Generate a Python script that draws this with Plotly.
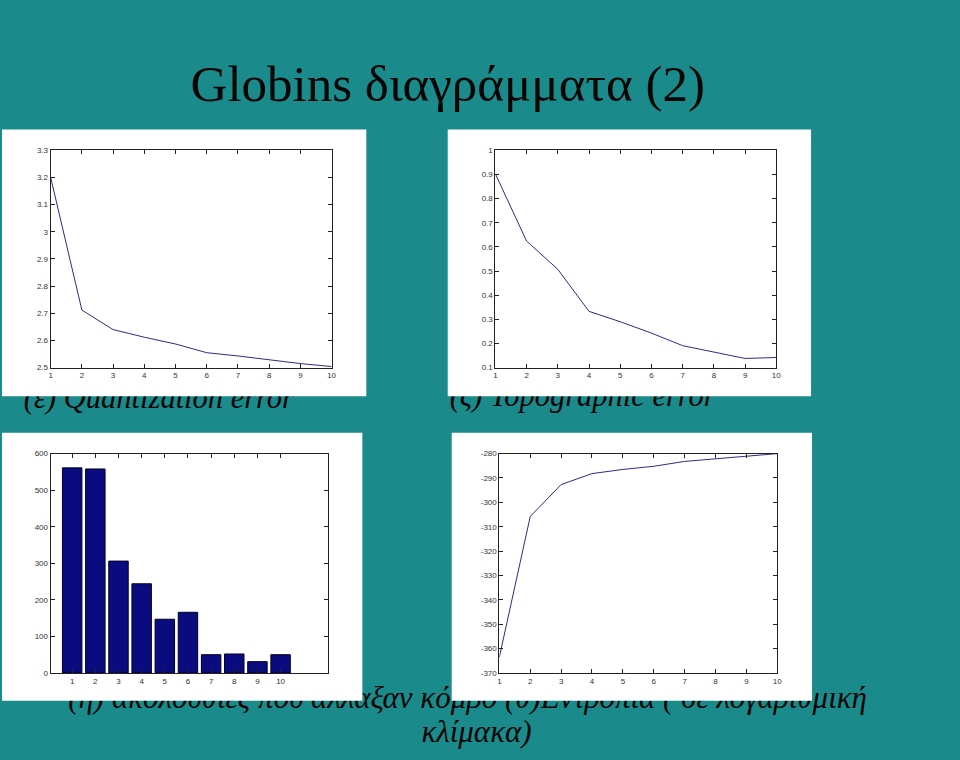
import plotly.graph_objects as go

# ---------------- data ----------------
steps = [1, 2, 3, 4, 5, 6, 7, 8, 9, 10]
quantization_error = [3.20, 2.712, 2.640, 2.612, 2.587, 2.555, 2.543, 2.528, 2.515, 2.504]
topographic_error = [0.902, 0.624, 0.507, 0.333, 0.290, 0.243, 0.191, 0.164, 0.138, 0.142]
changed_sequences = [561, 558, 306, 244, 147, 166, 50, 52, 31, 50]
entropy = [-363.5, -305.8, -292.7, -288.2, -286.5, -285.2, -283.2, -282.1, -281.2, -280.0]

x_tick_labels = ["1", "2", "3", "4", "5", "6", "7", "8", "9", "10"]
qe_ticks = [2.5, 2.6, 2.7, 2.8, 2.9, 3.0, 3.1, 3.2, 3.3]
qe_tick_labels = ["2.5", "2.6", "2.7", "2.8", "2.9", "3", "3.1", "3.2", "3.3"]
te_ticks = [0.1, 0.2, 0.3, 0.4, 0.5, 0.6, 0.7, 0.8, 0.9, 1.0]
te_tick_labels = ["0.1", "0.2", "0.3", "0.4", "0.5", "0.6", "0.7", "0.8", "0.9", "1"]
bar_ticks = [0, 100, 200, 300, 400, 500, 600]
bar_tick_labels = ["0", "100", "200", "300", "400", "500", "600"]
ent_ticks = [-370, -360, -350, -340, -330, -320, -310, -300, -290, -280]
ent_tick_labels = ["-370", "-360", "-350", "-340", "-330", "-320", "-310", "-300", "-290", "-280"]

title_text = "Globins διαγράμματα (2)"
caption_e = "(ε) Quantization error"
caption_z = "(ζ) Topographic error"
caption_bottom_1 = "(η) ακολουθίες που άλλαξαν κόμβο (θ)Εντροπία ( σε λογαριθμική"
caption_bottom_2 = "κλίμακα)"

# ---------------- styling / layout constants ----------------
W, H = 960, 760
TEAL = "#1b8a8a"
LINE_COLOR = "#2b2b8c"
BAR_COLOR = "#0b0b80"
AXIS_COLOR = "#222222"
SERIF = "Liberation Serif, Times New Roman, serif"
SANS = "Liberation Sans, Arial, sans-serif"

# white picture panels (pixel boxes: x0, y0, x1, y1)
panels = [(0, 127, 367, 397), (449, 127, 815, 397), (0, 434, 363, 705), (453, 434, 816, 705)]
# axes boxes in pixels
boxes = [(49, 148, 332, 368), (497, 148, 780, 368), (49, 455, 328, 677), (501, 455, 781, 677)]


def dom(box):
    x0, y0, x1, y1 = box
    return [x0 / W, x1 / W], [1 - y1 / H, 1 - y0 / H]


fig = go.Figure()

# --- layer 1 (xy): captions and title, beneath the white panels ---
def text_trace(txt, x, y, size, pos, italic=True):
    return go.Scatter(
        x=[x], y=[y], mode="text", text=[txt], textposition=pos,
        textfont=dict(family=SERIF, size=size, color="#050505",
                      style="italic" if italic else "normal"),
        xaxis="x", yaxis="y", hoverinfo="skip", cliponaxis=False,
    )

fig.add_trace(text_trace(title_text, 449, 85, 51, "middle center", italic=False))
fig.add_trace(text_trace(caption_e, 22, 401.5, 30.5, "middle right"))
fig.add_trace(text_trace(caption_z, 451, 399.5, 30.5, "middle right"))
fig.add_trace(text_trace(caption_bottom_1, 469, 704.5, 31, "middle center"))
fig.add_trace(text_trace(caption_bottom_2, 478, 738.5, 31, "middle center"))

# --- layer 2 (x2y2): white panels ---
for (x0, y0, x1, y1) in panels:
    fig.add_trace(go.Scatter(
        x=[x0, x1, x1, x0, x0], y=[y0, y0, y1, y1, y0], mode="lines",
        fill="toself", fillcolor="white", line=dict(width=0, color="white"),
        xaxis="x2", yaxis="y2", hoverinfo="skip",
    ))

# --- charts ---
fig.add_trace(go.Scatter(x=steps, y=quantization_error, mode="lines",
                         line=dict(color=LINE_COLOR, width=1), xaxis="x3", yaxis="y3"))
fig.add_trace(go.Scatter(x=steps, y=topographic_error, mode="lines",
                         line=dict(color=LINE_COLOR, width=1), xaxis="x4", yaxis="y4"))
fig.add_trace(go.Bar(x=steps, y=changed_sequences, width=0.84,
                     marker=dict(color=BAR_COLOR, line=dict(color="#000022", width=1)),
                     xaxis="x5", yaxis="y5"))
fig.add_trace(go.Scatter(x=steps, y=entropy, mode="lines",
                         line=dict(color=LINE_COLOR, width=1), xaxis="x6", yaxis="y6"))

hidden = dict(visible=False, fixedrange=True, showgrid=False, zeroline=False)
layout = dict(
    width=W, height=H, margin=dict(l=0, r=0, t=0, b=0),
    paper_bgcolor=TEAL, plot_bgcolor="rgba(0,0,0,0)",
    showlegend=False, hovermode=False,
    xaxis=dict(domain=[0, 1], range=[0, W], anchor="y", **hidden),
    yaxis=dict(domain=[0, 1], range=[H, 0], anchor="x", **hidden),
    xaxis2=dict(domain=[0, 1], range=[0, W], anchor="y2", **hidden),
    yaxis2=dict(domain=[0, 1], range=[H, 0], anchor="x2", **hidden),
)

axis_style = dict(
    showline=True, linecolor=AXIS_COLOR, linewidth=1, mirror="ticks",
    ticks="inside", ticklen=4, tickwidth=1, tickcolor=AXIS_COLOR,
    showgrid=False, zeroline=False, fixedrange=True,
    tickfont=dict(family=SANS, size=8, color="#333333"),
)

x_ranges = [[1, 10], [1, 10], [0.07, 12.03], [1, 10]]
y_specs = [
    ([2.5, 3.3], qe_ticks, qe_tick_labels),
    ([0.1, 1.0], te_ticks, te_tick_labels),
    ([0, 600], bar_ticks, bar_tick_labels),
    ([-370, -280], ent_ticks, ent_tick_labels),
]

for i, box in enumerate(boxes):
    n = i + 3
    xd, yd = dom(box)
    yr, yt, ytl = y_specs[i]
    layout[f"xaxis{n}"] = dict(domain=xd, range=x_ranges[i], anchor=f"y{n}",
                               tickvals=steps, ticktext=x_tick_labels, **axis_style)
    layout[f"yaxis{n}"] = dict(domain=yd, range=yr, anchor=f"x{n}",
                               tickvals=yt, ticktext=ytl, **axis_style)

fig.update_layout(**layout)
fig.write_html(
    "out.html",
    config={"displayModeBar": False, "staticPlot": True},
    post_script="document.body.style.margin='0';document.body.style.overflow='hidden';",
)
